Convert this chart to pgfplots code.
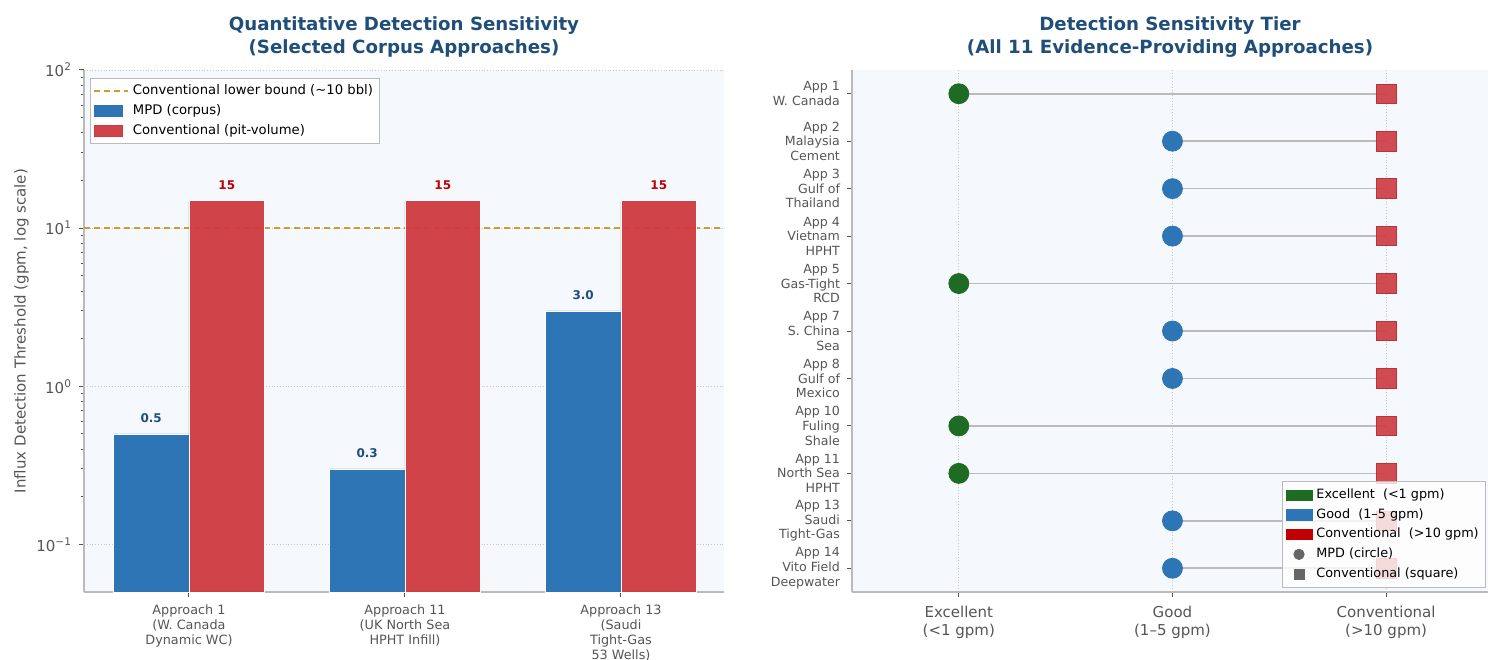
\documentclass[border=0pt]{standalone}
\usepackage{fontspec}
\setmainfont{DejaVu Sans}
\usepackage{pgfplots}
\pgfplotsset{compat=1.18}
\definecolor{bgc}{HTML}{F5F8FC}
\definecolor{titc}{HTML}{1F4E79}
\definecolor{mblue}{HTML}{2E75B6}
\definecolor{mred}{HTML}{CE3A40}
\definecolor{dred}{HTML}{C00000}
\definecolor{mgreen}{HTML}{1E6B23}
\definecolor{goldc}{HTML}{C9A030}
\definecolor{tickc}{HTML}{555555}
\definecolor{axc}{HTML}{BBBBBB}
\pgfplotsset{
  common/.style={
    scale only axis,
    axis background/.style={fill=bgc},
    axis x line*=bottom, axis y line*=left,
    axis line style={axc, line width=0.6pt},
    tick style={tickc, line width=0.5pt},
    tick align=outside,
    major tick length=2.5pt, minor tick length=1.5pt,
    major grid style={densely dotted, axc!80, line width=0.4pt},
    title style={font=\bfseries\fontsize{9.1}{11.2}\selectfont, text=titc, align=center, at={(0.5,1)}, anchor=south, yshift=-3pt},
    legend cell align=left,
  }
}
\begin{document}
\begin{tikzpicture}
\useasboundingbox (0,0) rectangle (744pt,329.5pt);
% ---------------- left axis ----------------
\begin{axis}[common,
  at={(42pt,33.5pt)}, anchor=south west, width=320pt, height=261pt,
  ymode=log, log origin y=infty, ymin=0.05, ymax=100, xmin=-0.486, xmax=2.477,
  xtick={0,1,2},
  xticklabels={{Approach 1\\(W. Canada\\Dynamic WC)},{Approach 11\\(UK North Sea\\HPHT Infill)},{Approach 13\\(Saudi\\Tight-Gas\\53 Wells)}},
  xticklabel style={align=center, font=\fontsize{6.4}{7.5}\selectfont, text=tickc, yshift=-0.5pt},
  ytick={0.1,1,10,100},
  yticklabels={10\textsuperscript{−1},10\textsuperscript{0},10\textsuperscript{1},10\textsuperscript{2}},
  yticklabel style={font=\fontsize{7.5}{9}\selectfont, text=tickc},
  ymajorgrids,
  ylabel={Influx Detection Threshold (gpm, log scale)},
  ylabel style={font=\fontsize{7.5}{9}\selectfont, text=tickc, yshift=-3pt},
  title={Quantitative Detection Sensitivity\\(Selected Corpus Approaches)},
  legend style={at={(0.01,0.985)}, anchor=north west, font=\fontsize{6.6}{7.6}\selectfont, draw=axc, fill=white, inner sep=1.2pt, row sep=-0.6pt},
  nodes near coords, point meta=explicit symbolic,
  nodes near coords style={font=\bfseries\fontsize{6}{7}\selectfont, anchor=south, yshift=2pt},
]
\addplot[goldc, dashed, line width=0.8pt, nodes near coords={}, dash pattern=on 3pt off 2pt] coordinates {(-0.486,10) (2.477,10)};
\addlegendentry{Conventional lower bound (\textasciitilde10 bbl)}
\addplot[ybar, bar width=0.35, bar shift=-0.175, fill=mblue, draw=white, line width=0.3pt,
  legend image code/.code={\fill[mblue] (0pt,-2.6pt) rectangle (14pt,2.6pt);},
  nodes near coords style={text=titc, xshift=-18.9pt}] coordinates {(0,0.5) [0.5] (1,0.3) [0.3] (2,3.0) [3.0]};
\addlegendentry{MPD (corpus)}
\addplot[ybar, bar width=0.35, bar shift=0.175, fill=mred, fill opacity=0.95, draw=white, line width=0.3pt,
  legend image code/.code={\fill[mred] (0pt,-2.6pt) rectangle (14pt,2.6pt);},
  nodes near coords style={text=dred, text opacity=1, xshift=18.9pt}] coordinates {(0,15) [15] (1,15) [15] (2,15) [15]};
\addlegendentry{Conventional (pit-volume)}
\end{axis}
% ---------------- right axis ----------------
\begin{axis}[common,
  at={(426pt,33.5pt)}, anchor=south west, width=318pt, height=261pt,
  xmin=-0.5, xmax=2.477, ymin=-0.5, ymax=10.5, y dir=reverse,
  xtick={0,1,2},
  xticklabels={{Excellent\\(<1 gpm)},{Good\\(1–5 gpm)},{Conventional\\(>10 gpm)}},
  xticklabel style={align=center, font=\fontsize{7.5}{9}\selectfont, text=tickc, yshift=-1pt},
  ytick={0,...,10},
  yticklabels={{App 1\\W. Canada},{App 2\\Malaysia\\Cement},{App 3\\Gulf of\\Thailand},{App 4\\Vietnam\\HPHT},{App 5\\Gas-Tight\\RCD},{App 7\\S. China\\Sea},{App 8\\Gulf of\\Mexico},{App 10\\Fuling\\Shale},{App 11\\North Sea\\HPHT},{App 13\\Saudi\\Tight-Gas},{App 14\\Vito Field\\Deepwater}},
  yticklabel style={align=right, font=\fontsize{6.3}{7.3}\selectfont, text=tickc},
  xmajorgrids,
  title={Detection Sensitivity Tier\\(All 11 Evidence-Providing Approaches)},
  legend style={at={(0.997,0.008)}, anchor=south east, font=\fontsize{6.4}{7.6}\selectfont, draw=axc, fill=white, fill opacity=0.8, text opacity=1, inner sep=1.5pt, row sep=-0.5pt},
]
\addplot[axc, line width=0.8pt, forget plot] coordinates {(0,0) (2,0)};
\addplot[axc, line width=0.8pt, forget plot] coordinates {(1,1) (2,1)};
\addplot[axc, line width=0.8pt, forget plot] coordinates {(1,2) (2,2)};
\addplot[axc, line width=0.8pt, forget plot] coordinates {(1,3) (2,3)};
\addplot[axc, line width=0.8pt, forget plot] coordinates {(0,4) (2,4)};
\addplot[axc, line width=0.8pt, forget plot] coordinates {(1,5) (2,5)};
\addplot[axc, line width=0.8pt, forget plot] coordinates {(1,6) (2,6)};
\addplot[axc, line width=0.8pt, forget plot] coordinates {(0,7) (2,7)};
\addplot[axc, line width=0.8pt, forget plot] coordinates {(0,8) (2,8)};
\addplot[axc, line width=0.8pt, forget plot] coordinates {(1,9) (2,9)};
\addplot[axc, line width=0.8pt, forget plot] coordinates {(1,10) (2,10)};
\addplot[only marks, mark=*, mark size=5pt, mark options={fill=mgreen, draw=mgreen}, forget plot] coordinates {(0,0) (0,4) (0,7) (0,8)};
\addplot[only marks, mark=*, mark size=5pt, mark options={fill=mblue, draw=mblue}, forget plot] coordinates {(1,1) (1,2) (1,3) (1,5) (1,6) (1,9) (1,10)};
\addplot[only marks, mark=square*, mark size=4.9pt, mark options={fill=mred, fill opacity=0.9, draw=mred!90!black, line width=0.4pt}, forget plot] coordinates {(2,0) (2,1) (2,2) (2,3) (2,4) (2,5) (2,6) (2,7) (2,8) (2,9) (2,10)};
\addlegendimage{legend image code/.code={\fill[mgreen, fill opacity=1] (0pt,-2.6pt) rectangle (13pt,2.6pt);}}
\addlegendentry{Excellent\ \ (<1 gpm)}
\addlegendimage{legend image code/.code={\fill[mblue, fill opacity=1] (0pt,-2.6pt) rectangle (13pt,2.6pt);}}
\addlegendentry{Good\ \ (1–5 gpm)}
\addlegendimage{legend image code/.code={\fill[dred, fill opacity=1] (0pt,-2.6pt) rectangle (13pt,2.6pt);}}
\addlegendentry{Conventional\ \ (>10 gpm)}
\addlegendimage{legend image code/.code={\fill[black!60, fill opacity=1] (6.5pt,0pt) circle (2.6pt);}}
\addlegendentry{MPD (circle)}
\addlegendimage{legend image code/.code={\fill[black!60, fill opacity=1] (4pt,-2.5pt) rectangle (9pt,2.5pt);}}
\addlegendentry{Conventional (square)}
\end{axis}
\end{tikzpicture}
\end{document}
